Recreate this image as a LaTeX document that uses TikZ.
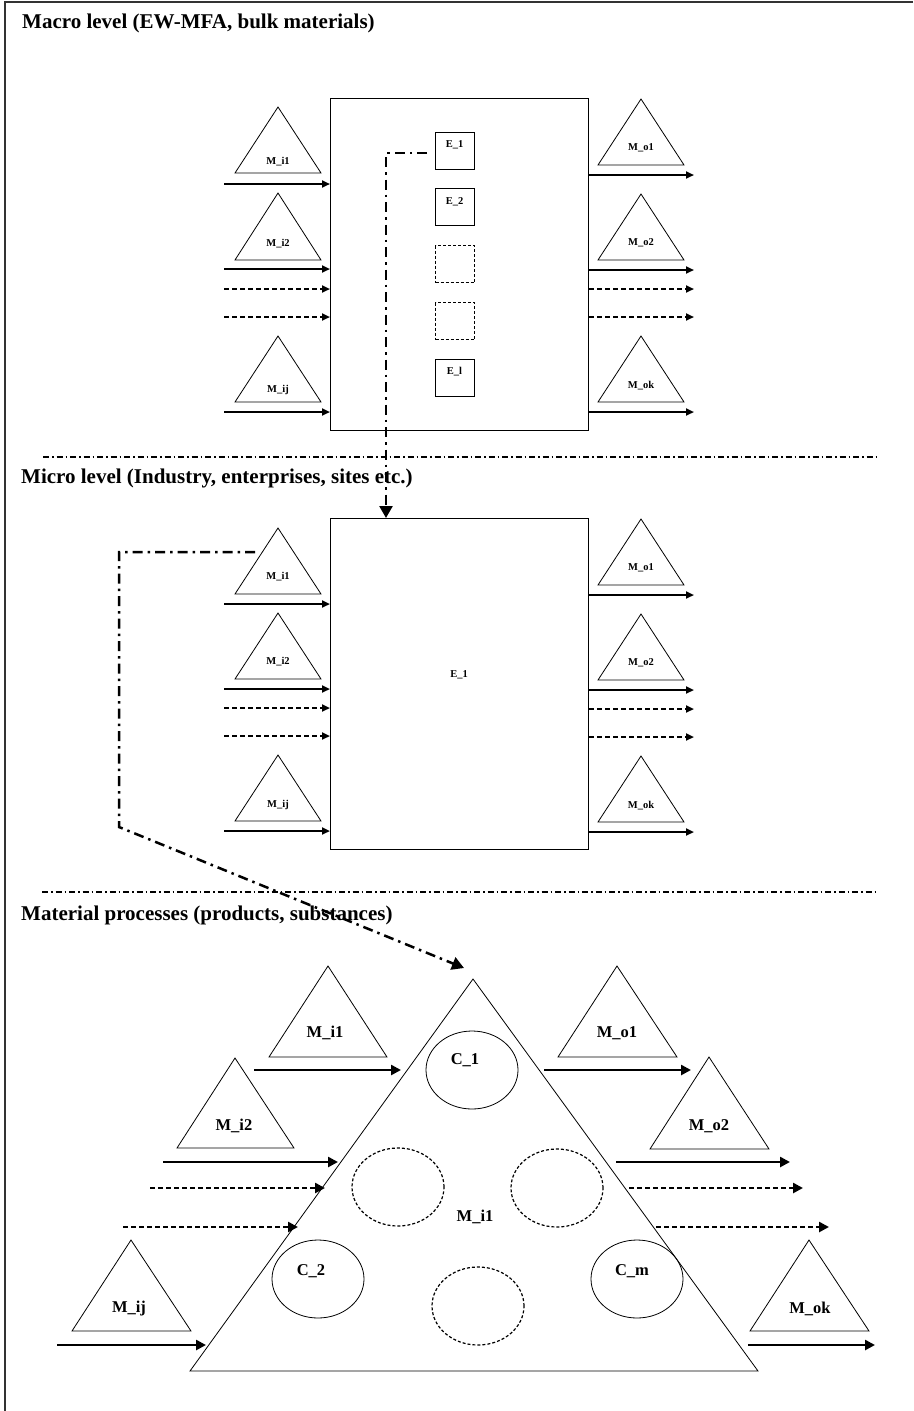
\documentclass[tikz,border=0pt]{standalone}
\usepackage{fontspec}
\setmainfont{Liberation Serif}
\usetikzlibrary{arrows.meta,shapes.geometric,calc}
\begin{document}
\begin{tikzpicture}[x=1pt,y=-1pt,
  heading/.style={font=\fontsize{21}{24}\selectfont\bfseries, anchor=base west, inner sep=0},
  slbl/.style={font=\fontsize{10.5}{12}\selectfont\bfseries, inner sep=0},
  blbl/.style={font=\fontsize{16.5}{19}\selectfont\bfseries, inner sep=0},
  tri/.style={draw, line width=0.8pt},
  flow/.style={line width=2pt, -{Triangle[length=8pt,width=7pt]}},
  dflow/.style={flow, dash pattern=on 5pt off 3pt},
  bflow/.style={line width=2.6pt, -{Triangle[length=10pt,width=10pt]}},
  bdflow/.style={bflow, dash pattern=on 5pt off 3pt},
  sep/.style={line width=1.5pt, dash pattern=on 6pt off 3pt on 1.5pt off 3pt},
  link/.style={line width=2.5pt, dash pattern=on 10pt off 5pt on 2.5pt off 5pt, -{Triangle[length=12pt,width=13pt]}},
  box/.style={draw, line width=1pt, inner sep=0, anchor=north west},
  ebox/.style={box, line width=0.8pt, minimum width=39pt, minimum height=37pt},
  debox/.style={ebox, dash pattern=on 3pt off 2pt, line width=1.2pt},
  cell/.style={draw, ellipse, line width=0.8pt, minimum width=92pt, minimum height=78pt, inner sep=0},
  dcell/.style={cell, dash pattern=on 3pt off 2pt, line width=1.2pt},
  ]
\useasboundingbox (0,0) rectangle (913,1411);
% frame
\draw[line width=1.6pt, black!80] (913,2) -- (5,2) -- (5,1411);

% ---------------- Macro level ----------------
\node[heading] (h1) at (22,28) {Macro level (EW-MFA, bulk materials)};
\node[box, minimum width=258pt, minimum height=332pt] (macro) at (330,98) {};
\node[ebox] (e1) at (435,132) {};
\node[ebox] (e2) at (435,188) {};
\node[debox] (e3) at (435,245) {};
\node[debox] (e4) at (435,302) {};
\node[ebox] (el) at (435,359) {};
\node[slbl] (e1t) at (454.5,145) {E\_1};
\node[slbl] (e2t) at (454.5,202) {E\_2};
\node[slbl] (elt) at (454.5,372) {E\_l};

% left triangles
\draw[tri] (235,173) -- (278,107) -- (321,173) -- cycle;
\draw[tri] (235,260) -- (278,193) -- (321,260) -- cycle;
\draw[tri] (235,402) -- (278,336) -- (321,402) -- cycle;
\node[slbl] (ti1) at (278,162) {M\_i1};
\node[slbl] (ti2) at (278,244) {M\_i2};
\node[slbl] (tij) at (278,390) {M\_ij};
% right triangles
\draw[tri] (598,165) -- (641,99) -- (684,165) -- cycle;
\draw[tri] (598,260) -- (641,194) -- (684,260) -- cycle;
\draw[tri] (598,402) -- (641,336) -- (684,402) -- cycle;
\node[slbl] (to1) at (641,148) {M\_o1};
\node[slbl] (to2) at (641,243) {M\_o2};
\node[slbl] (tok) at (641,386) {M\_ok};

\coordinate (ai1) at (224,184);
\coordinate (ai2) at (224,269);
\coordinate (ai3) at (224,289);
\coordinate (ai4) at (224,317);
\coordinate (ai5) at (224,412);
\draw[flow] (ai1) -- (ai1 -| macro.west);
\draw[flow] (ai2) -- (ai2 -| macro.west);
\draw[dflow] (ai3) -- (ai3 -| macro.west);
\draw[dflow] (ai4) -- (ai4 -| macro.west);
\draw[flow] (ai5) -- (ai5 -| macro.west);
\coordinate (ao1) at (694,175);
\coordinate (ao2) at (694,270);
\coordinate (ao3) at (694,289);
\coordinate (ao4) at (694,317);
\coordinate (ao5) at (694,412);
\draw[flow] (ao1 -| macro.east) -- (ao1);
\draw[flow] (ao2 -| macro.east) -- (ao2);
\draw[dflow] (ao3 -| macro.east) -- (ao3);
\draw[dflow] (ao4 -| macro.east) -- (ao4);
\draw[flow] (ao5 -| macro.east) -- (ao5);

\draw[sep] (43,457) -- (878,457);

% ---------------- Micro level ----------------
\node[heading] (h2) at (21,483) {Micro level (Industry, enterprises, sites etc.)};
\node[box, minimum width=258pt, minimum height=331pt] (micro) at (330,518) {};
\node[slbl] (mt) at (459,675) {E\_1};

\draw[tri] (235,594) -- (278,528) -- (321,594) -- cycle;
\draw[tri] (235,679) -- (278,613) -- (321,679) -- cycle;
\draw[tri] (235,821) -- (278,755) -- (321,821) -- cycle;
\node[slbl] (mi1) at (278,577) {M\_i1};
\node[slbl] (mi2) at (278,662) {M\_i2};
\node[slbl] (mij) at (278,805) {M\_ij};
\draw[tri] (598,585) -- (641,519) -- (684,585) -- cycle;
\draw[tri] (598,680) -- (641,614) -- (684,680) -- cycle;
\draw[tri] (598,822) -- (641,756) -- (684,822) -- cycle;
\node[slbl] (mo1) at (641,568) {M\_o1};
\node[slbl] (mo2) at (641,663) {M\_o2};
\node[slbl] (mok) at (641,806) {M\_ok};

\coordinate (bi1) at (224,604);
\coordinate (bi2) at (224,689);
\coordinate (bi3) at (224,708);
\coordinate (bi4) at (224,736);
\coordinate (bi5) at (224,831);
\draw[flow] (bi1) -- (bi1 -| micro.west);
\draw[flow] (bi2) -- (bi2 -| micro.west);
\draw[dflow] (bi3) -- (bi3 -| micro.west);
\draw[dflow] (bi4) -- (bi4 -| micro.west);
\draw[flow] (bi5) -- (bi5 -| micro.west);
\coordinate (bo1) at (694,595);
\coordinate (bo2) at (694,690);
\coordinate (bo3) at (694,709);
\coordinate (bo4) at (694,737);
\coordinate (bo5) at (694,832);
\draw[flow] (bo1 -| micro.east) -- (bo1);
\draw[flow] (bo2 -| micro.east) -- (bo2);
\draw[dflow] (bo3 -| micro.east) -- (bo3);
\draw[dflow] (bo4 -| micro.east) -- (bo4);
\draw[flow] (bo5 -| micro.east) -- (bo5);

% link macro E_1 -> micro
\coordinate (l1s) at (427,153);
\coordinate (l1c) at (386,153);
\draw[link] (l1s) -- (l1c) -- (l1c |- micro.north);

\draw[sep] (42,892) -- (877,892);

% ---------------- Material processes ----------------
\node[heading] (h3) at (21,920) {Material processes (products, substances)};

\coordinate (apex) at (473,979);
\draw[tri] (190,1371) -- (apex) -- (758,1371) -- cycle;
\node[blbl] (pm) at (475,1217) {M\_i1};

\node[cell] (c1) at (472,1070) {};
\node[dcell] (d1) at (398,1187) {};
\node[dcell] (d2) at (557,1188) {};
\node[cell] (c2) at (318,1279) {};
\node[cell] (cm) at (637,1279) {};
\node[dcell] (d3) at (478,1306) {};
\node[blbl] (c1t) at (465,1060) {C\_1};
\node[blbl] (c2t) at (311,1271) {C\_2};
\node[blbl] (cmt) at (632,1271) {C\_m};

% triangles around
\draw[tri] (269,1057) -- (328,966) -- (387,1057) -- cycle;
\node[blbl] (pi1) at (325,1033) {M\_i1};
\draw[tri] (177,1148) -- (235,1058) -- (294,1148) -- cycle;
\node[blbl] (pi2) at (234,1126) {M\_i2};
\draw[tri] (72,1331) -- (131,1240) -- (191,1331) -- cycle;
\node[blbl] (pij) at (129,1309) {M\_ij};
\draw[tri] (558,1057) -- (617,966) -- (677,1057) -- cycle;
\node[blbl] (po1) at (617,1033) {M\_o1};
\draw[tri] (650,1149) -- (709,1057) -- (769,1149) -- cycle;
\node[blbl] (po2) at (709,1126) {M\_o2};
\draw[tri] (750,1331) -- (809,1240) -- (869,1331) -- cycle;
\node[blbl] (pok) at (810,1309) {M\_ok};

% arrows in
\coordinate (pa1) at (254,1070);  \coordinate (pb1) at (401,1070);
\coordinate (pa2) at (163,1162);  \coordinate (pb2) at (338,1162);
\coordinate (pa3) at (150,1188);  \coordinate (pb3) at (325,1188);
\coordinate (pa4) at (123,1227);  \coordinate (pb4) at (298,1227);
\coordinate (pa5) at (57,1345);   \coordinate (pb5) at (206,1345);
\draw[bflow] (pa1) -- (pb1);
\draw[bflow] (pa2) -- (pb2);
\draw[bdflow] (pa3) -- (pb3);
\draw[bdflow] (pa4) -- (pb4);
\draw[bflow] (pa5) -- (pb5);
% arrows out
\coordinate (qa1) at (544,1070);  \coordinate (qb1) at (691,1070);
\coordinate (qa2) at (616,1162);  \coordinate (qb2) at (790,1162);
\coordinate (qa3) at (629,1188);  \coordinate (qb3) at (803,1188);
\coordinate (qa4) at (656,1227);  \coordinate (qb4) at (829,1227);
\coordinate (qa5) at (748,1345);  \coordinate (qb5) at (875,1345);
\draw[bflow] (qa1) -- (qb1);
\draw[bflow] (qa2) -- (qb2);
\draw[bdflow] (qa3) -- (qb3);
\draw[bdflow] (qa4) -- (qb4);
\draw[bflow] (qa5) -- (qb5);

% link micro M_i1 -> material process
\coordinate (l2s) at (255,552);
\coordinate (l2a) at (119,552);
\coordinate (l2b) at (119,827);
\coordinate (l2e) at (464,968);
\draw[link] (l2s) -- (l2a) -- (l2b) -- (l2e);
\end{tikzpicture}
\end{document}
